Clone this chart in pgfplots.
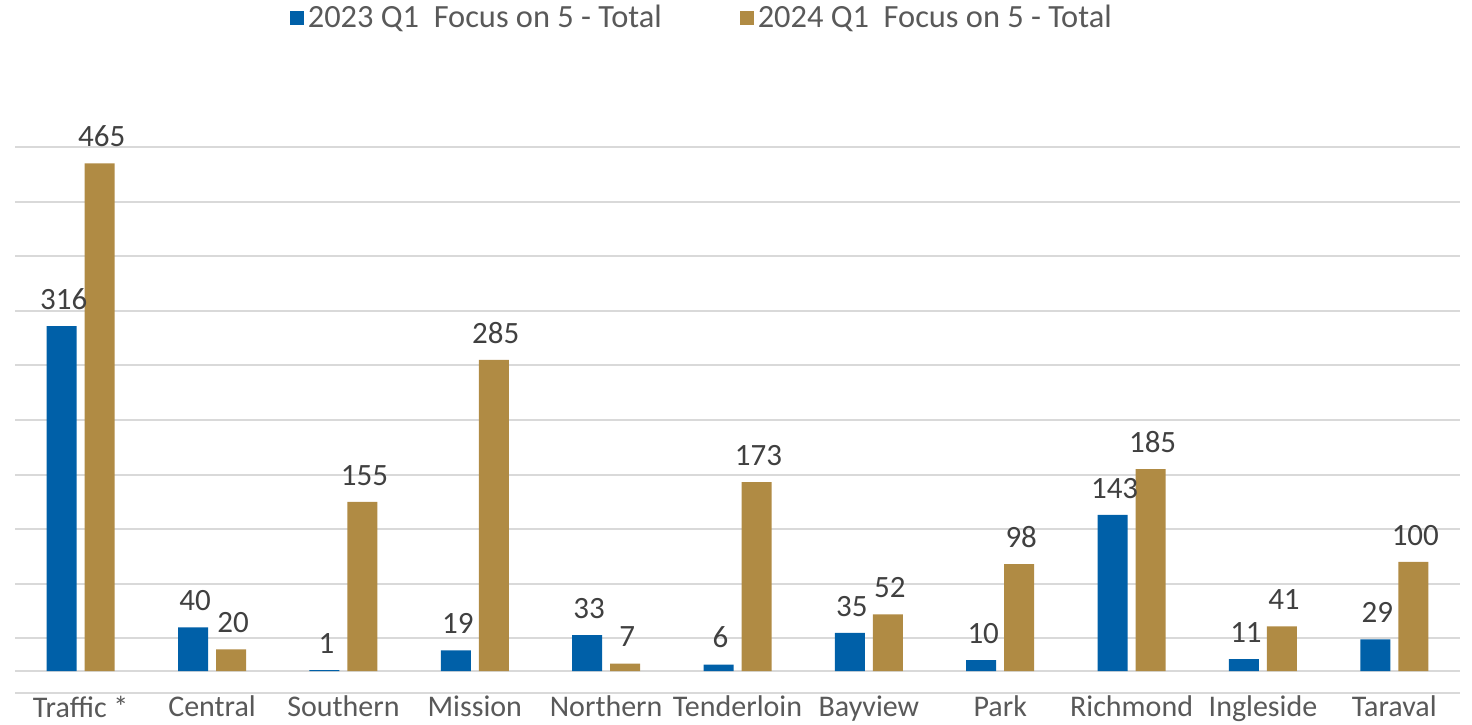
\documentclass[border=0pt]{standalone}
\usepackage{fontspec}
\setmainfont{Carlito}
\usepackage{pgfplots}
\pgfplotsset{compat=1.18}
\definecolor{barBlue}{HTML}{0060A8}
\definecolor{barGold}{HTML}{B08B44}
\definecolor{gridGrey}{HTML}{D9D9D9}
\definecolor{txt}{HTML}{404040}
\definecolor{tickTxt}{HTML}{595959}

\begin{document}
\begin{tikzpicture}
\begin{axis}[
  scale only axis, width=722.5pt, height=273pt,
  ybar, bar width=15pt,
  xmin=-0.5, xmax=10.5, ymin=-20, ymax=480,
  xtick={0,...,10},
  xticklabels={Traffic *,Central,Southern,Mission,Northern,Tenderloin,Bayview,Park,Richmond,Ingleside,Taraval},
  ytick={-20,30,...,480}, yticklabels={},
  extra y ticks={0}, extra y tick labels={},
  extra y tick style={grid=major, grid style={gridGrey, line width=1.1pt}},
  ymajorgrids, grid style={gridGrey, line width=1pt},
  axis line style={draw=none}, major tick length=0pt,
  /pgf/number format/assume math mode=true,
  tick label style={font=\fontsize{15}{18}\selectfont, text=tickTxt},
  xticklabel style={inner sep=1.2pt},
  nodes near coords,
  every node near coord/.append style={font=\fontsize{15.5}{18}\selectfont, text=txt, yshift=4.8pt, xshift=1pt},
  legend style={draw=none, fill=none, at={(0.476,1.236)}, anchor=center,
    legend columns=2, font=\fontsize{16.2}{19}\selectfont, text=tickTxt,
    /tikz/every even column/.append style={column sep=37pt}},
  legend image code/.code={\fill[#1] (-1.5pt,-3.5pt) rectangle (5.5pt,3.5pt);},
  legend cell align=left,
]
\addplot[fill=barBlue, draw=none, bar shift=-9.5pt] coordinates {
  (0,316) (1,40) (2,1) (3,19) (4,33) (5,6) (6,35) (7,10) (8,143) (9,11) (10,29)};
\addplot[fill=barGold, draw=none, bar shift=9.5pt] coordinates {
  (0,465) (1,20) (2,155) (3,285) (4,7) (5,173) (6,52) (7,98) (8,185) (9,41) (10,100)};
\legend{2023 Q1\ \ Focus on 5 - Total, 2024 Q1\ \ Focus on 5 - Total}
\coordinate (sw) at (rel axis cs:0,0);
\coordinate (ne) at (rel axis cs:1,1);
\end{axis}
\pgfresetboundingbox
\path[use as bounding box] ([xshift=-7.5pt,yshift=-16pt]sw) rectangle ([xshift=6pt,yshift=73.5pt]ne);
\end{tikzpicture}
\end{document}
